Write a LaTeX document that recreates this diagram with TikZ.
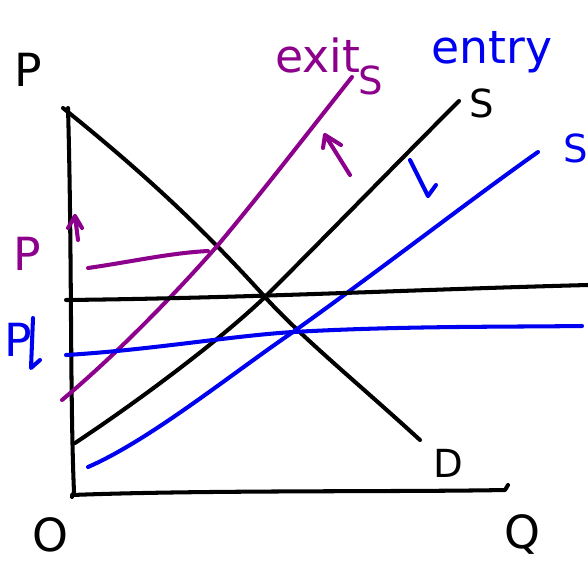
\documentclass[tikz,border=0pt]{standalone}
\usepackage{fontspec}
\setmainfont{DejaVu Sans}
\usetikzlibrary{arrows.meta}
\definecolor{exitc}{RGB}{140,0,140}
\definecolor{entryc}{RGB}{0,0,240}
\tikzset{
  curve/.style={line width=2.3pt, line cap=round, line join=round},
  lbl/.style={font=\fontsize{26}{26}\selectfont, inner sep=0pt},
  slbl/.style={font=\fontsize{22}{22}\selectfont, inner sep=0pt},
}
\begin{document}
\begin{tikzpicture}[x=0.02cm,y=-0.02cm]
\useasboundingbox (0,0) rectangle (588,565);
% coordinates
\coordinate (ytop) at (68,108);
\coordinate (orig) at (74,492);
\coordinate (xend) at (505,490);
\coordinate (dtop) at (63,108);
\coordinate (dbot) at (420,440);
\coordinate (s0a) at (75,443);
\coordinate (s0b) at (459,101);
\coordinate (s1a) at (62,400);
\coordinate (s1b) at (352,77);
\coordinate (s2a) at (88,467);
\coordinate (s2b) at (538,152);
\coordinate (h0a) at (66,300);
\coordinate (h0b) at (588,285);
\coordinate (h2a) at (66,355);
\coordinate (h2b) at (582,326);
\coordinate (h1a) at (88,268);
\coordinate (h1b) at (208,251);
\coordinate (ua) at (350,175);
\coordinate (ub) at (325,135);
\coordinate (da) at (410,160);
\coordinate (db) at (428,196);
\coordinate (pa) at (78,240);
\coordinate (pb) at (75,216);
% axes
\draw[curve] (ytop) .. controls (72,250) and (70,400) .. (orig) -- (72,497);
\draw[curve] (72,495) .. controls (200,490) and (400,492) .. (xend) -- (508,485);
% demand
\draw[curve] (dtop) .. controls (140,170) and (200,225) .. (265,297) .. controls (300,336) and (360,385) .. (dbot);
% supply curves
\draw[curve] (s0a) .. controls (140,400) and (220,340) .. (265,297) .. controls (330,232) and (400,160) .. (s0b);
\draw[curve, exitc] (s1a) .. controls (110,360) and (170,300) .. (218,245) .. controls (260,195) and (310,130) .. (s1b);
\draw[curve, entryc] (s2a) .. controls (150,440) and (230,375) .. (293,332) .. controls (380,270) and (470,200) .. (s2b);
% horizontal price lines
\draw[curve] (h0a) .. controls (250,298) and (400,290) .. (h0b);
\draw[curve, entryc] (h2a) .. controls (150,350) and (230,336) .. (293,332) .. controls (400,326) and (500,327) .. (h2b);
\draw[curve, exitc] (h1a) .. controls (130,262) and (170,253) .. (h1b);
% shift arrows
\draw[curve, exitc] (ua) -- (ub) -- (323,148) (ub) -- (341,145);
\draw[curve, entryc] (da) -- (db) -- (423,186) (db) -- (436,185);
\draw[curve, exitc] (pa) -- (pb) -- (68,228) (pb) -- (82,228);
% blue price down arrow
\draw[curve, entryc] (33,318) -- (31,368) -- (40,360);
% labels
\node[lbl] (lp) at (28,70) {P};
\node[lbl] (lo) at (50,535) {O};
\node[lbl] (lq) at (522,534) {Q};
\node[slbl] (ld) at (448,463) {D};
\node[slbl] (ls0) at (482,103) {S};
\node[slbl, exitc] (ls1) at (371,80) {S};
\node[slbl, entryc] (ls2) at (576,148) {S};
\node[lbl, exitc] (lexit) at (318,55) {exit};
\node[lbl, entryc] (lentry) at (492,52) {entry};
\node[lbl, exitc] (lp1) at (27,254) {P};
\node[lbl, entryc] (lp2) at (18,340) {P};
\end{tikzpicture}
\end{document}
